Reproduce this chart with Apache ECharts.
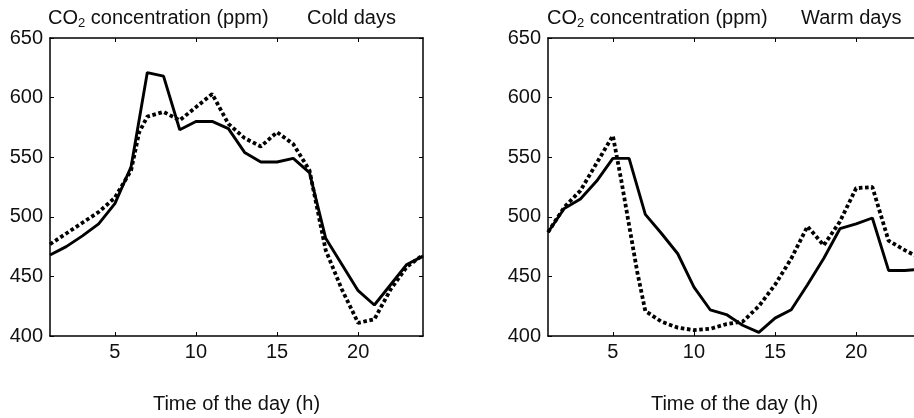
<!DOCTYPE html>
<html><head><meta charset="utf-8">
<script src="https://cdn.jsdelivr.net/npm/echarts@6/dist/echarts.min.js"></script>
<style>html,body{margin:0;padding:0;background:#fff}#c{width:914px;height:418px}</style>
</head><body><div id="c"></div>
<script>
// ---- data ----
const coldSolidHours = [1,2,3,4,5,6,7,8,9,10,11,12,13,14,15,16,17,18,19,20,21,22,23,24];
const coldSolid      = [468,475,484,494,511,542,621,618,573,580,580,574,554,546,546,549,537,482,460,438,426,443,460,467];
const coldDottedHours = [1,2,3,4,5,6,6.5,7,8,9,10,11,12,13,14,15,16,17,18,19,20,21,22,23,24];
const coldDotted      = [477,486,495,504,516,539,571,584,588,581,592,603,578,566,559,571,561,539,472,439,411,414,439,458,468];
const warmSolidHours = [1,2,3,4,5,6,7,8,9,10,11,12,13,14,15,16,17,18,19,20,21,22,23,24];
const warmSolid      = [487,507,515,530,549,549,502,486,469,441,422,418,409,403,415,422,443,465,490,494,499,455,455,456];
const warmDottedHours = [1,2,3,4,5,5.5,6,6.5,7,8,9,10,11,12,13,14,15,16,17,18,19,20,21,22,23,24];
const warmDotted      = [487,508,522,545,568,532,493,454,421,412,407,405,406,410,412,425,443,465,492,476,496,524,525,480,472,465];
const xTicks = [5,10,15,20];
const yMin = 400, yMax = 650, yStep = 50;
const panelTitles = ['Cold days','Warm days'];
const yTitle = '{a|CO}{s|2}{a| concentration (ppm)}';
const xTitle = 'Time of the day (h)';

const pair = (xs, ys) => xs.map((x,i)=>[x, ys[i]]);
const FONT = 'Liberation Sans, Arial, sans-serif';
const TXT = '#111';
const FS = 20;
const grids = [
  {left:50, top:38, width:373, height:298, outerBoundsMode:'none', containLabel:false},
  {left:548, top:38, width:373, height:298, outerBoundsMode:'none', containLabel:false}
];
const xAxes = [], yAxes = [];
grids.forEach((g, i) => {
  xAxes.push({
    gridIndex:i, type:'value', min:1, max:24, position:'bottom',
    name:xTitle, nameLocation:'middle', nameGap:58,
    nameTextStyle:{fontFamily:FONT, fontSize:FS, color:TXT},
    axisLine:{show:true, onZero:false, lineStyle:{color:'#000', width:1.5}},
    axisTick:{show:true, inside:true, length:4, customValues:xTicks, lineStyle:{color:'#000', width:1}},
    axisLabel:{show:true, customValues:xTicks, margin:6, fontFamily:FONT, fontSize:FS, color:TXT},
    splitLine:{show:false}
  });
  xAxes.push({
    gridIndex:i, type:'value', min:1, max:24, position:'top',
    axisLine:{show:true, onZero:false, lineStyle:{color:'#000', width:1.5}},
    axisTick:{show:true, inside:true, length:4, customValues:xTicks, lineStyle:{color:'#000', width:1}},
    axisLabel:{show:false}, splitLine:{show:false}
  });
  yAxes.push({
    gridIndex:i, type:'value', min:yMin, max:yMax, interval:yStep, position:'left',
    axisLine:{show:true, onZero:false, lineStyle:{color:'#000', width:1.5}},
    axisTick:{show:true, inside:true, length:4, lineStyle:{color:'#000', width:1}},
    axisLabel:{show:true, margin:7, fontFamily:FONT, fontSize:FS, color:TXT},
    splitLine:{show:false}
  });
  yAxes.push({
    gridIndex:i, type:'value', min:yMin, max:yMax, interval:yStep, position:'right',
    axisLine:{show:true, onZero:false, lineStyle:{color:'#000', width:1.5}},
    axisTick:{show:true, inside:true, length:4, lineStyle:{color:'#000', width:1}},
    axisLabel:{show:false}, splitLine:{show:false}
  });
});
const solidStyle = {color:'#000', width:2.9, type:'solid'};
const dotStyle = {color:'#000', width:3.8, type:[3.6,2.6], cap:'butt'};
const mk = (name, data, gi, style) => ({
  name, type:'line', xAxisIndex:gi*2, yAxisIndex:gi*2, data,
  showSymbol:false, symbol:'none', lineStyle:style, z:3, clip:false
});
const rich = {
  a:{fontFamily:FONT, fontSize:FS, fontWeight:'normal', color:TXT, lineHeight:24, verticalAlign:'middle'},
  s:{fontFamily:FONT, fontSize:13, fontWeight:'normal', color:TXT, lineHeight:13, verticalAlign:'bottom'}
};
const plain = {fontFamily:FONT, fontSize:FS, color:TXT, fontWeight:'normal'};
const option = {
  animation:false,
  backgroundColor:'#fff',
  title:[
    {text:yTitle, left:48, top:6, padding:0, textStyle:{fontWeight:'normal', rich}},
    {text:panelTitles[0], left:307, top:8, padding:0, textStyle:plain},
    {text:yTitle, left:547, top:6, padding:0, textStyle:{fontWeight:'normal', rich}},
    {text:panelTitles[1], left:801, top:8, padding:0, textStyle:plain}
  ],
  grid:grids,
  xAxis:xAxes,
  yAxis:yAxes,
  series:[
    mk('cold solid', pair(coldSolidHours, coldSolid), 0, solidStyle),
    mk('cold dotted', pair(coldDottedHours, coldDotted), 0, dotStyle),
    mk('warm solid', pair(warmSolidHours, warmSolid), 1, solidStyle),
    mk('warm dotted', pair(warmDottedHours, warmDotted), 1, dotStyle)
  ]
};
const chart = echarts.init(document.getElementById('c'), null, {renderer:'canvas'});
chart.setOption(option);
</script>
</body></html>
